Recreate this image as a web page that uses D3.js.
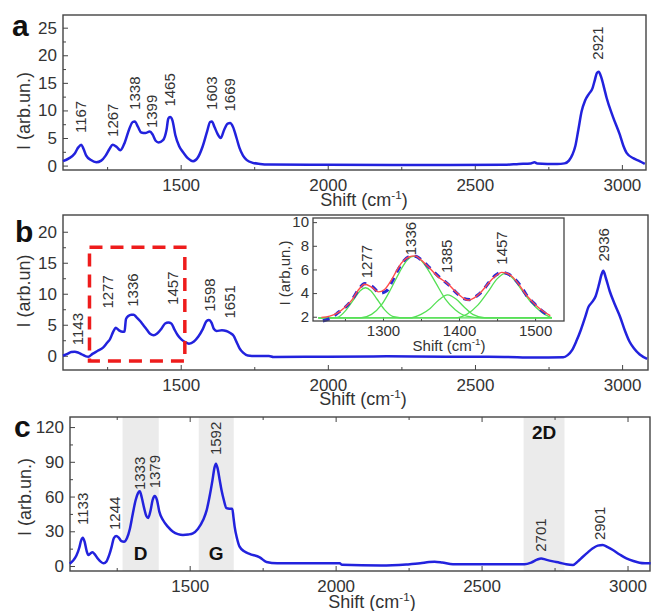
<!DOCTYPE html>
<html>
<head>
<meta charset="utf-8">
<script src="https://cdn.jsdelivr.net/npm/d3@7"></script>
<style>
  body { margin: 0; background: #fff; }
  svg { display: block; font-family: "Liberation Sans", Arial, sans-serif; }
</style>
</head>
<body>
<svg id="chart" width="651" height="611"></svg>
<script>
// spectra: [shift cm-1, intensity]
const spectrumA = [[1100,0.8],[1120,1.3],[1140,2.2],[1152,3.3],[1162,3.8],[1170,3.0],[1179,1.8],[1195,1.0],[1213,0.6],[1230,0.9],[1245,1.8],[1258,3.0],[1269,3.8],[1282,3.4],[1295,2.8],[1310,4.2],[1325,6.6],[1337,7.9],[1344,8.0],[1355,7.0],[1366,6.0],[1380,5.9],[1395,6.2],[1405,5.6],[1415,4.5],[1425,4.2],[1440,4.6],[1452,6.5],[1458,8.5],[1464,8.8],[1472,8.2],[1482,5.5],[1495,3.5],[1510,2.3],[1525,1.3],[1542,0.8],[1560,1.6],[1575,3.5],[1590,6.2],[1600,7.9],[1606,8.0],[1615,7.0],[1625,5.8],[1636,5.0],[1648,6.5],[1660,7.6],[1668,7.7],[1678,7.0],[1690,5.0],[1700,3.2],[1712,1.8],[1725,1.0],[1745,0.5],[1770,0.3],[1800,0.2],[2000,0.15],[2300,0.1],[2600,0.15],[2650,0.3],[2690,0.4],[2703,0.6],[2712,0.4],[2780,0.3],[2805,0.4],[2820,0.9],[2832,2.0],[2842,3.6],[2852,6.5],[2863,9.8],[2875,11.8],[2888,13.0],[2900,14.0],[2908,15.5],[2915,16.8],[2921,17.0],[2930,16.0],[2940,14.0],[2948,12.3],[2970,8.8],[2993,5.6],[3005,3.6],[3016,2.3],[3040,1.3],[3060,0.8],[3078,0.3]];

const spectrumB = [[1100,0.0],[1115,0.3],[1128,0.6],[1140,0.65],[1152,0.5],[1165,0.2],[1178,-0.1],[1186,-0.15],[1200,0.3],[1218,0.8],[1236,1.3],[1250,2.1],[1260,2.7],[1270,3.8],[1279,4.5],[1290,4.1],[1303,3.85],[1309,3.9],[1314,5.9],[1322,6.4],[1332,6.6],[1340,6.6],[1350,6.2],[1362,5.6],[1372,5.0],[1385,4.2],[1397,3.5],[1408,3.3],[1420,3.6],[1435,4.4],[1447,5.2],[1458,5.35],[1468,5.2],[1478,4.3],[1490,3.3],[1503,2.6],[1515,2.2],[1528,1.95],[1545,2.3],[1560,3.1],[1575,4.3],[1588,5.6],[1596,5.75],[1605,5.3],[1613,4.3],[1622,4.0],[1640,4.1],[1655,4.0],[1667,3.7],[1680,3.2],[1690,2.2],[1700,1.2],[1712,0.5],[1728,0.05],[1760,-0.05],[1800,-0.05],[1815,-0.2],[2000,-0.15],[2200,-0.1],[2400,-0.15],[2600,-0.2],[2700,-0.3],[2800,-0.25],[2815,0.1],[2830,0.9],[2845,2.4],[2860,4.2],[2875,6.3],[2885,7.8],[2897,8.6],[2910,9.6],[2922,11.6],[2930,13.1],[2936,13.7],[2945,12.5],[2958,10.4],[2975,8.3],[2993,6.3],[3010,4.0],[3025,2.3],[3040,1.2],[3060,0.2],[3085,-0.5]];

const spectrumC = [[1089,2.0],[1100,4.5],[1112,9],[1122,16],[1128,22],[1134,24.5],[1140,21],[1147,13],[1153,9.5],[1160,10.8],[1167,11.8],[1175,10],[1185,6.5],[1195,3.8],[1205,2.3],[1215,4],[1225,10],[1233,17],[1240,24],[1248,26],[1257,24.5],[1266,21.5],[1275,21],[1285,24],[1295,32],[1305,45],[1315,57],[1323,63],[1329,64.5],[1336,59],[1344,50],[1352,43],[1358,41.5],[1366,48],[1373,57],[1380,60.5],[1388,57],[1396,47],[1409,39.5],[1425,34],[1443,29.6],[1460,27.5],[1477,26.8],[1495,27.2],[1511,28.2],[1528,32],[1546,39.7],[1558,48],[1568,59.8],[1578,74],[1585,85],[1590,88.3],[1596,84],[1603,74],[1609,65.6],[1617,57],[1626,50],[1636,49.5],[1646,49.5],[1650,42],[1654,34],[1662,24],[1671,16.7],[1688,12.5],[1705,10.5],[1740,7.5],[1763,3.5],[1800,2.4],[1877,2.3],[1950,2.3],[2014,2.3],[2022,1.0],[2156,0.4],[2242,1.3],[2290,2.3],[2320,3.4],[2339,3.7],[2365,3.0],[2402,1.5],[2500,1.5],[2647,1.5],[2670,3.0],[2690,5.5],[2704,6.6],[2720,5.5],[2745,4.0],[2767,2.9],[2790,1.5],[2813,0.9],[2830,4],[2847,8],[2865,12],[2881,15.3],[2898,17.6],[2915,18.1],[2932,16.3],[2950,13.8],[2973,10],[2996,6.6],[3020,4.3],[3041,2.9],[3060,2.4],[3079,2.3]];

// inset of panel b: measured data, fit and fitted bands
const insetData = [[1221,1.65],[1232,1.9],[1242,2.4],[1252,2.9],[1260,3.5],[1268,4.3],[1276,4.8],[1286,4.55],[1296,4.0],[1305,4.2],[1312,5.0],[1320,6.0],[1327,6.7],[1336,7.1],[1343,7.1],[1352,6.7],[1362,6.1],[1375,5.3],[1388,4.6],[1397,4.0],[1406,3.55],[1414,3.45],[1422,3.7],[1431,4.2],[1440,4.95],[1448,5.5],[1456,5.75],[1465,5.6],[1473,5.2],[1482,4.5],[1490,3.7],[1499,3.1],[1507,2.6],[1515,2.2]];
const insetFit = [[1219,1.95],[1230,2.05],[1241,2.35],[1250,2.8],[1259,3.4],[1267,4.2],[1276,4.75],[1285,4.5],[1294,4.1],[1302,4.3],[1311,5.1],[1318,5.9],[1325,6.6],[1334,7.05],[1342,7.15],[1351,6.75],[1360,6.2],[1373,5.35],[1386,4.75],[1395,4.15],[1404,3.65],[1412,3.4],[1420,3.6],[1429,4.1],[1437,4.7],[1443,5.15],[1450,5.55],[1456,5.75],[1462,5.7],[1469,5.45],[1478,4.8],[1487,3.95],[1496,3.3],[1504,2.8],[1512,2.4],[1520,2.1]];
const band1277 = [[1215,1.9],[1240,1.95],[1252,2.6],[1262,3.5],[1270,4.2],[1277,4.45],[1284,4.2],[1292,3.5],[1302,2.6],[1314,2.0],[1330,1.9],[1522,1.9]];
const band1336 = [[1215,1.9],[1270,1.9],[1285,2.2],[1298,3.0],[1310,4.3],[1322,5.8],[1332,6.8],[1340,7.1],[1348,6.9],[1358,6.1],[1370,4.8],[1382,3.5],[1395,2.6],[1410,2.05],[1430,1.9],[1522,1.9]];
const band1385 = [[1215,1.9],[1335,1.9],[1350,2.2],[1362,2.7],[1373,3.4],[1385,3.85],[1396,3.5],[1407,2.8],[1418,2.2],[1435,1.9],[1522,1.9]];
const band1457 = [[1215,1.9],[1395,1.9],[1410,2.2],[1425,3.0],[1438,4.1],[1450,5.2],[1460,5.65],[1470,5.3],[1482,4.3],[1495,3.2],[1508,2.4],[1522,1.9]];

// peak labels: text and where the label starts [shift, intensity]
const peaksA = ["1167","1267","1338","1399","1465","1603","1669","2921"];
const peakAtA = [[1162,5.9],[1269,5.2],[1344,10.1],[1401,6.8],[1463,10.7],[1604,10.1],[1667,9.8],[2918,19.2]];
const peaksB = ["1143","1277","1336","1457","1598","1651","2936"];
const peakAtB = [[1151,1.7],[1253,7.6],[1338,7.9],[1474,8.2],[1599,7.1],[1667,6.0],[2939,15.2]];
const peaksC = ["1133","1244","1333","1379","1592","2701","2901"];
const peakAtC = [[1135,35.4],[1243,31.1],[1328,65.6],[1380,67.1],[1591,95.8],[2704,12.3],[2904,22.4]];
const peaksInset = ["1277","1336","1385","1457"];
const peakAtInset = [[1279,5.25],[1337,7.2],[1384,5.7],[1456,6.4]];

// shaded bands in c
const bandNames = ["D","G","2D"];
const bandRanges = [[1270,1394],[1531,1651],[2644,2784]];

// dashed box in b
const zoomBox = [[1190,1514],[-0.85,17.5]];

const xTicks = [1500, 2000, 2500, 3000];
const xMinor = [1250, 1750, 2250, 2750];

const svg = d3.select("#chart");
const BLUE = "#2222dd", FRAME = "#444", TXT = "#333";

function shiftTitle(g, x, y, size) {
  const t = g.append("text").attr("x", x).attr("y", y).attr("text-anchor", "middle")
    .attr("font-size", size).attr("fill", TXT);
  t.append("tspan").text("Shift (cm");
  t.append("tspan").attr("font-size", size * 0.65).attr("dy", -size * 0.4).text("-1");
  t.append("tspan").attr("dy", size * 0.4).text(")");
}

function panel(o) {
  const x = d3.scaleLinear().domain(o.xd).range([o.l, o.r]);
  const y = d3.scaleLinear().domain(o.yd).range([o.b, o.t]);
  const g = svg.append("g");

  // grey bands
  if (o.bands) {
    g.selectAll("rect.band").data(o.bands).enter().append("rect")
      .attr("x", d => x(d[0])).attr("width", d => x(d[1]) - x(d[0]))
      .attr("y", o.t).attr("height", o.b - o.t).attr("fill", "#ebebeb");
  }

  // ticks, inward
  const ax = d3.axisBottom(x).tickValues(xTicks).tickSize(-5).tickPadding(9).tickFormat(d3.format("d"));
  g.append("g").attr("transform", `translate(0,${o.b})`).call(ax);
  g.append("g").attr("transform", `translate(0,${o.b})`)
    .call(d3.axisBottom(x).tickValues(xMinor).tickSize(-3).tickFormat(""));
  if (o.topTicks) {
    g.append("g").attr("transform", `translate(0,${o.t})`)
      .call(d3.axisTop(x).tickValues(xTicks).tickSize(-5).tickFormat(""));
    g.append("g").attr("transform", `translate(0,${o.t})`)
      .call(d3.axisTop(x).tickValues(xMinor).tickSize(-3).tickFormat(""));
  }
  g.append("g").attr("transform", `translate(${o.l},0)`)
    .call(d3.axisLeft(y).tickValues(o.yTicks).tickSize(-5).tickPadding(6));
  g.append("g").attr("transform", `translate(${o.l},0)`)
    .call(d3.axisLeft(y).tickValues(o.yMinor).tickSize(-3).tickFormat(""));
  g.selectAll(".domain").remove();
  g.selectAll(".tick line").attr("stroke", FRAME);
  g.selectAll(".tick text").attr("font-size", 17).attr("fill", TXT).attr("font-family", null);

  g.append("rect").attr("x", o.l).attr("y", o.t).attr("width", o.r - o.l).attr("height", o.b - o.t)
    .attr("fill", "none").attr("stroke", FRAME).attr("stroke-width", 1.4);

  const line = d3.line().x(d => x(d[0])).y(d => y(d[1])).curve(d3.curveMonotoneX);
  g.append("path").datum(o.data).attr("d", line)
    .attr("fill", "none").attr("stroke", BLUE).attr("stroke-width", 2.5).attr("stroke-linejoin", "round");

  // peak labels
  o.peaks.forEach((p, i) => {
    g.append("text")
      .attr("transform", `translate(${x(o.peakAt[i][0])},${y(o.peakAt[i][1])}) rotate(-90)`)
      .attr("dy", "0.35em").attr("font-size", 15).attr("fill", TXT).text(p);
  });

  g.append("text").attr("x", o.letter[1]).attr("y", o.letter[2])
    .attr("font-size", 30).attr("font-weight", "bold").attr("fill", "#111").text(o.letter[0]);

  g.append("text")
    .attr("transform", `translate(${o.yTitle[1]},${o.yTitle[2]}) rotate(-90)`)
    .attr("text-anchor", "middle").attr("font-size", 18).attr("fill", TXT).text(o.yTitle[0]);

  shiftTitle(g, o.xTitle[0], o.xTitle[1], 18);
  return { g, x, y };
}

// a
panel({ l: 63, r: 646, t: 15, b: 170, xd: [1100, 3082], yd: [-0.8, 27.3],
  yTicks: [0, 5, 10, 15, 20, 25], yMinor: [2.5, 7.5, 12.5, 17.5, 22.5],
  data: spectrumA, peaks: peaksA, peakAt: peakAtA,
  letter: ["a", 12, 36], yTitle: ["I (arb.un.)", 30, 111], xTitle: [364, 206] });

// b
const pb = panel({ l: 63, r: 648, t: 215, b: 370, xd: [1100, 3088], yd: [-2.3, 22.7],
  yTicks: [0, 5, 10, 15, 20], yMinor: [2.5, 7.5, 12.5, 17.5],
  data: spectrumB, peaks: peaksB, peakAt: peakAtB,
  letter: ["b", 15, 242], yTitle: ["I (arb.un)", 30, 291], xTitle: [363, 405] });

pb.g.append("rect")
  .attr("x", pb.x(zoomBox[0][0])).attr("width", pb.x(zoomBox[0][1]) - pb.x(zoomBox[0][0]))
  .attr("y", pb.y(zoomBox[1][1])).attr("height", pb.y(zoomBox[1][0]) - pb.y(zoomBox[1][1]))
  .attr("fill", "none").attr("stroke", "#ee1c1c").attr("stroke-width", 3.5)
  .attr("stroke-dasharray", "13,8");

// inset
(function () {
  const L = 313, R = 564, T = 218, B = 321;
  const x = d3.scaleLinear().domain([1208, 1538]).range([L, R]);
  const y = d3.scaleLinear().domain([1.64, 10.35]).range([B, T]);
  const g = svg.append("g");
  g.append("rect").attr("x", L).attr("y", T).attr("width", R - L).attr("height", B - T).attr("fill", "#fff");
  g.append("g").attr("transform", `translate(0,${B})`)
    .call(d3.axisBottom(x).tickValues([1300, 1400, 1500]).tickSize(-4).tickPadding(4).tickFormat(d3.format("d")));
  g.append("g").attr("transform", `translate(0,${B})`)
    .call(d3.axisBottom(x).tickValues([1250, 1350, 1450]).tickSize(-2).tickFormat(""));
  g.append("g").attr("transform", `translate(${L},0)`)
    .call(d3.axisLeft(y).tickValues([2, 4, 6, 8, 10]).tickSize(-4).tickPadding(4));
  g.selectAll(".domain").remove();
  g.selectAll(".tick line").attr("stroke", FRAME);
  g.selectAll(".tick text").attr("font-size", 15).attr("fill", TXT).attr("font-family", null);

  const line = d3.line().x(d => x(d[0])).y(d => y(d[1])).curve(d3.curveMonotoneX);
  [band1277, band1336, band1385, band1457].forEach(b => {
    g.append("path").datum(b).attr("d", line).attr("fill", "none")
      .attr("stroke", "#55e055").attr("stroke-width", 1.3);
  });
  g.append("path").datum(insetData).attr("d", line).attr("fill", "none")
    .attr("stroke", "#2a2ad6").attr("stroke-width", 3.2).attr("stroke-dasharray", "7,6");
  g.append("path").datum(insetFit).attr("d", line).attr("fill", "none")
    .attr("stroke", "#ff4a4a").attr("stroke-width", 1.4);

  g.append("rect").attr("x", L).attr("y", T).attr("width", R - L).attr("height", B - T)
    .attr("fill", "none").attr("stroke", FRAME).attr("stroke-width", 1.3);

  peaksInset.forEach((p, i) => {
    g.append("text")
      .attr("transform", `translate(${x(peakAtInset[i][0])},${y(peakAtInset[i][1])}) rotate(-90)`)
      .attr("dy", "0.35em").attr("font-size", 15).attr("fill", TXT).text(p);
  });
  g.append("text").attr("transform", `translate(290,273) rotate(-90)`)
    .attr("text-anchor", "middle").attr("font-size", 15).attr("fill", TXT).text("I (arb,un.)");
  shiftTitle(g, 449, 351, 15);
})();

// c
const pc = panel({ l: 70, r: 650, t: 417, b: 571, xd: [1090, 3077], yd: [-4.3, 128.7],
  yTicks: [0, 30, 60, 90, 120], yMinor: [15, 45, 75, 105],
  data: spectrumC, peaks: peaksC, peakAt: peakAtC, bands: bandRanges, topTicks: true,
  letter: ["c", 14, 437], yTitle: ["I (arb.un.)", 31, 497], xTitle: [372, 608] });

const bandLabelY = [5, 5, 110];
bandNames.forEach((n, i) => {
  pc.g.append("text").attr("x", pc.x((bandRanges[i][0] + bandRanges[i][1]) / 2))
    .attr("y", pc.y(bandLabelY[i])).attr("text-anchor", "middle")
    .attr("font-size", 19).attr("font-weight", "bold").attr("fill", "#111").text(n);
});
</script>
</body>
</html>
